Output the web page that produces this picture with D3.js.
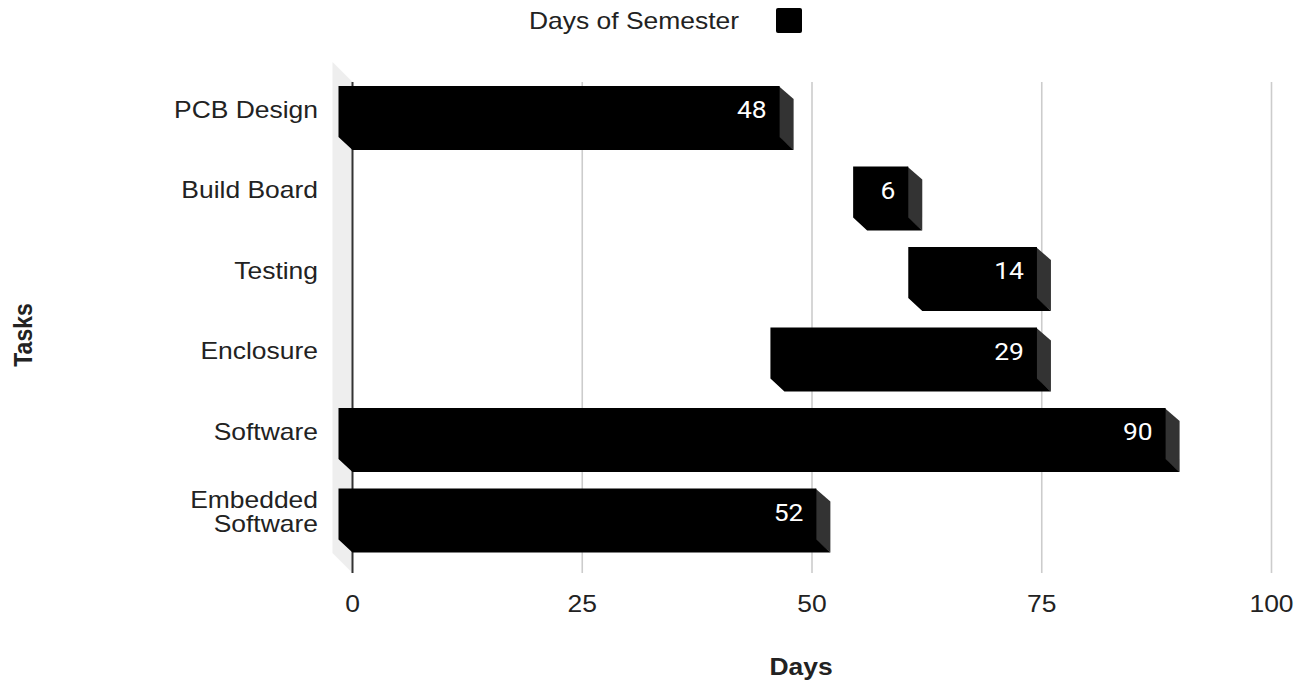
<!DOCTYPE html>
<html>
<head>
<meta charset="utf-8">
<script src="https://cdn.jsdelivr.net/npm/d3@7"></script>
<style>
  html, body { margin: 0; padding: 0; background: #fff; }
  svg { display: block; }
  text { font-family: "Liberation Sans", Arial, sans-serif; }
</style>
</head>
<body>
<svg id="chart" width="1301" height="682"></svg>
<script>
// Task schedule (days of the semester)
const categories = ["PCB Design", "Build Board", "Testing", "Enclosure", "Software", "Embedded Software"];
const startDays = [0, 56, 62, 47, 0, 0];
const durations = [48, 6, 14, 29, 90, 52];
const tickValues = [0, 25, 50, 75, 100];
const seriesName = "Days of Semester";
const xTitle = "Days";
const yTitle = "Tasks";

const svg = d3.select("#chart");
const SX = 1.15;              // horizontal text stretch
const FONT = 23;
const depthX = 14, depthY = 13;  // 3D extrusion of the bars
const wallDepth = 20;

const plotTop = 82, plotBottom = 573;

const x = d3.scaleLinear().domain([0, 100]).range([352.5, 1271.5]);
const y = d3.scaleBand().domain(categories)
  .range([71.25, 554.25]).paddingInner(0.3665).paddingOuter(0.18325);

const rows = categories.map((c, i) => ({ cat: c, start: startDays[i], dur: durations[i] }));

// left wall
svg.append("path")
  .attr("d", `M${x(0) - wallDepth},${plotTop - wallDepth} L${x(0)},${plotTop} L${x(0)},${plotBottom} L${x(0) - wallDepth},${plotBottom - wallDepth} Z`)
  .attr("fill", "#eeeeee");

// gridlines
svg.append("g").selectAll("line")
  .data(tickValues.filter(v => v !== 0))
  .join("line")
  .attr("x1", d => x(d)).attr("x2", d => x(d))
  .attr("y1", plotTop).attr("y2", plotBottom)
  .attr("stroke", "#cccccc").attr("stroke-width", 1.6);

// baseline
svg.append("line")
  .attr("x1", x(0)).attr("x2", x(0))
  .attr("y1", plotTop).attr("y2", plotBottom)
  .attr("stroke", "#333").attr("stroke-width", 2);

// bars
const bars = svg.append("g").selectAll("g").data(rows).join("g");
bars.each(function(d) {
  const g = d3.select(this);
  const xl = x(d.start) - depthX;
  const xr = x(d.start + d.dur) - depthX;
  const yt = y(d.cat);
  const yb = yt + y.bandwidth();
  // side face
  g.append("path")
    .attr("d", `M${xr - 1},${yt} L${xr + depthX},${yt + depthY} L${xr + depthX},${yb + depthY} L${xr - 1},${yb} Z`)
    .attr("fill", "#333333");
  // front and bottom faces as one outline
  g.append("path")
    .attr("d", `M${xl},${yt} L${xr},${yt} L${xr},${yb} L${xr + depthX},${yb + depthY} L${xl + depthX},${yb + depthY} L${xl},${yb} Z`)
    .attr("fill", "#000");
  // value label
  g.append("text")
    .attr("transform", `translate(${xr - 13},${yt + 32}) scale(${SX},1)`)
    .attr("text-anchor", "end")
    .style("font-family", "Roboto, sans-serif")
    .style("font-weight", 400)
    .style("font-size", "23px")
    .attr("fill", "#fff")
    .text(d.dur);
});

// category labels
const lineH = 23.5;
svg.append("g").selectAll("text").data(rows).join("text")
  .attr("transform", d => `translate(318,${y(d.cat) + 31.5}) scale(${SX},1)`)
  .attr("text-anchor", "end")
  .style("font-size", FONT + "px")
  .attr("fill", "#222")
  .each(function(d) {
    const words = d.cat === "Embedded Software" ? ["Embedded", "Software"] : [d.cat];
    const t = d3.select(this);
    const y0 = -(words.length - 1) * lineH / 2;
    words.forEach((w, i) => {
      t.append("tspan").attr("x", 0).attr("y", y0 + i * lineH).text(w);
    });
  });

// x tick labels
svg.append("g").selectAll("text").data(tickValues).join("text")
  .attr("transform", d => `translate(${x(d)},612) scale(${SX},1)`)
  .attr("text-anchor", "middle")
  .style("font-size", FONT + "px")
  .attr("fill", "#222")
  .text(d => d);

// axis titles
svg.append("text")
  .attr("transform", `translate(801,675) scale(${SX},1)`)
  .attr("text-anchor", "middle")
  .style("font-size", FONT + "px").style("font-weight", "bold")
  .attr("fill", "#222")
  .text(xTitle);

svg.append("text")
  .attr("transform", `translate(32,335) scale(${SX},1) rotate(-90)`)
  .attr("text-anchor", "middle")
  .style("font-size", FONT + "px").style("font-weight", "bold")
  .attr("fill", "#222")
  .text(yTitle);

// legend
svg.append("text")
  .attr("transform", `translate(739,28.5) scale(${SX},1)`)
  .attr("text-anchor", "end")
  .style("font-size", FONT + "px")
  .attr("fill", "#222")
  .text(seriesName);
svg.append("rect")
  .attr("x", 776).attr("y", 8).attr("width", 26).attr("height", 25)
  .attr("rx", 2).attr("fill", "#000");
</script>
</body>
</html>
